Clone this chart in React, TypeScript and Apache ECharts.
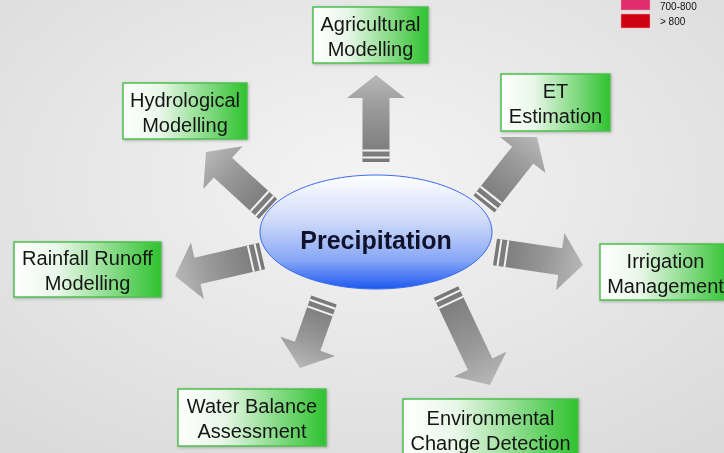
import React, { useEffect, useRef } from "react";
import * as echarts from "echarts";

const centerLabel = "Precipitation";
const nodeLabels = [
  "Agricultural\nModelling",
  "ET\nEstimation",
  "Irrigation\nManagement",
  "Environmental\nChange Detection",
  "Water Balance\nAssessment",
  "Rainfall Runoff\nModelling",
  "Hydrological\nModelling",
];
// layout: box [x, y, w, h]
const boxLayout = [
  [313, 7, 115, 56],
  [501, 74, 109, 57],
  [600, 244, 131, 56],
  [403, 399, 175, 60],
  [178, 389, 148, 57],
  [14, 242, 147, 55],
  [123, 83, 124, 56],
];
// layout: arrow [baseX, baseY, tipX, tipY]
const arrowLayout = [
  [376, 162, 376, 75],
  [484, 204, 537, 137],
  [495, 252, 583, 265],
  [446, 292, 490, 385],
  [324, 300, 300, 368],
  [262, 256, 175, 276],
  [268, 209, 206, 152],
];
const legendLabels = ["700-800", "> 800"];
const legendColors = ["#de2c6c", "#d00012"];

function arrowElements(b: number[]) {
  const [bx, by, tx, ty] = b;
  const dx = tx - bx, dy = ty - by;
  const L = Math.hypot(dx, dy);
  const ux = dx / L, uy = dy / L;
  const nx = -uy, ny = ux;
  const w = 13.5, hw = 29, hl = 23;
  const hx = tx - ux * hl, hy = ty - uy * hl;
  const pts = [
    [bx + nx * w, by + ny * w],
    [hx + nx * w, hy + ny * w],
    [hx + nx * hw, hy + ny * hw],
    [tx, ty],
    [hx - nx * hw, hy - ny * hw],
    [hx - nx * w, hy - ny * w],
    [bx - nx * w, by - ny * w],
  ];
  const els: any[] = [
    {
      type: "polygon",
      shape: { points: pts },
      style: {
        fill: {
          type: "linear",
          x: bx,
          y: by,
          x2: tx,
          y2: ty,
          global: true,
          colorStops: [
            { offset: 0, color: "#777777" },
            { offset: 0.6, color: "#999999" },
            { offset: 1, color: "#b8b8b8" },
          ],
        },
      },
      z: 5,
    },
  ];
  [4.5, 11.5].forEach((d) => {
    const cx = bx + ux * d, cy = by + uy * d;
    els.push({
      type: "line",
      shape: {
        x1: cx + nx * w,
        y1: cy + ny * w,
        x2: cx - nx * w,
        y2: cy - ny * w,
      },
      style: { stroke: "#f2f2f2", lineWidth: 2 },
      z: 6,
    });
  });
  return els;
}

export default function App() {
  const ref = useRef<HTMLDivElement>(null);
  useEffect(() => {
    if (!ref.current) return;
    const chart = echarts.init(ref.current, undefined, { renderer: "svg" });
    const elements: any[] = [];
    elements.push({
      type: "rect",
      shape: { x: 0, y: 0, width: 724, height: 453 },
      style: {
        fill: {
          type: "radial",
          x: 0.5,
          y: 0.4,
          r: 0.75,
          colorStops: [
            { offset: 0, color: "#f4f4f4" },
            { offset: 1, color: "#dadada" },
          ],
        },
      },
      z: 0,
    });
    arrowLayout.forEach((a) => elements.push(...arrowElements(a)));
    elements.push({
      type: "ellipse",
      shape: { cx: 376, cy: 232, rx: 116, ry: 57 },
      style: {
        fill: {
          type: "linear",
          x: 0,
          y: 0,
          x2: 0,
          y2: 1,
          colorStops: [
            { offset: 0, color: "#ffffff" },
            { offset: 0.4, color: "#cfdaf9" },
            { offset: 0.75, color: "#86a6f6" },
            { offset: 1, color: "#1d58f0" },
          ],
        },
        stroke: "#3a6cf0",
        lineWidth: 1,
      },
      z: 10,
    });
    elements.push({
      type: "text",
      style: {
        text: centerLabel,
        x: 376,
        y: 240,
        align: "center",
        verticalAlign: "middle",
        fontFamily: "Liberation Sans, Arial, sans-serif",
        fontWeight: "bold",
        fontSize: 25,
        fill: "#10122a",
      },
      z: 11,
    });
    nodeLabels.forEach((lab, i) => {
      const [x, y, w, h] = boxLayout[i];
      elements.push({
        type: "rect",
        shape: { x, y, width: w, height: h },
        style: {
          fill: {
            type: "linear",
            x: 0,
            y: 0,
            x2: 1,
            y2: 0,
            colorStops: [
              { offset: 0, color: "#ffffff" },
              { offset: 0.3, color: "#e9f7e9" },
              { offset: 1, color: "#2fc22f" },
            ],
          },
          stroke: "#4cbf4c",
          lineWidth: 1.5,
          shadowBlur: 3,
          shadowColor: "rgba(0,0,0,0.25)",
          shadowOffsetX: 1,
          shadowOffsetY: 1,
        },
        z: 20,
      });
      elements.push({
        type: "text",
        style: {
          text: lab,
          x: x + w / 2,
          y: y + h / 2 + 1,
          align: "center",
          verticalAlign: "middle",
          fontFamily: "Liberation Sans, Arial, sans-serif",
          fontSize: 20,
          lineHeight: 25,
          fill: "#151515",
        },
        z: 21,
      });
    });
    legendLabels.forEach((lab, i) => {
      const y = i === 0 ? -4 : 14;
      elements.push({
        type: "rect",
        shape: { x: 621, y, width: 29, height: 14 },
        style: { fill: legendColors[i], stroke: "#f4a0b0", lineWidth: 0.5 },
        z: 20,
      });
      elements.push({
        type: "text",
        style: {
          text: lab,
          x: 660,
          y: i === 0 ? 6 : 21,
          align: "left",
          verticalAlign: "middle",
          fontFamily: "Liberation Sans, Arial, sans-serif",
          fontSize: 10,
          fill: "#111111",
        },
        z: 21,
      });
    });
    chart.setOption({
      animation: false,
      graphic: { elements },
    });
    return () => chart.dispose();
  }, []);
  return (
    <div
      ref={ref}
      style={{ position: "fixed", left: 0, top: 0, width: 724, height: 453 }}
    />
  );
}
